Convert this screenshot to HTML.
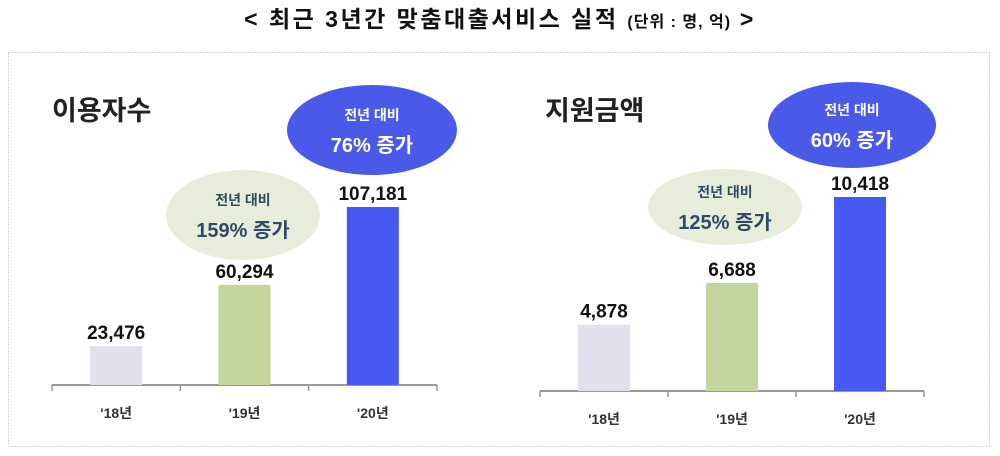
<!DOCTYPE html>
<html><head><meta charset="utf-8"><style>
body{margin:0;background:#fff;}
svg{display:block;font-family:"Liberation Sans","Noto Sans CJK KR",sans-serif;}
</style></head><body>
<svg id="c" width="1000" height="456">
<text x="500" y="27" text-anchor="middle" font-weight="bold" font-size="23" letter-spacing="2.5" fill="#111">&lt; 최근 3년간 맞춤대출서비스 실적 <tspan font-size="16" letter-spacing="1">(단위 : 명, 억)</tspan> &gt;</text>
<rect x="8.5" y="52.5" width="981" height="394" fill="none" stroke="#aaa" stroke-dasharray="1,2"/>
<text x="52" y="120" font-size="27" font-weight="bold" fill="#222">이용자수</text>
<text x="545" y="120" font-size="27" font-weight="bold" fill="#222">지원금액</text>
<g id="g"></g>
</svg>
<script>
const years=["'18년","'19년","'20년"];
const users=[23476,60294,107181];
const amounts=[4878,6688,10418];
const userGrowth=["159% 증가","76% 증가"];
const amountGrowth=["125% 증가","60% 증가"];
const colors=["#e3dfec","#c3d59a","#4659f0"];
const NS="http://www.w3.org/2000/svg";
const g=document.getElementById('g');
function mk(t,a,txt){const e=document.createElementNS(NS,t);for(const k in a)e.setAttribute(k,a[k]);if(txt!==undefined)e.textContent=txt;g.appendChild(e);return e;}
function fmt(v){return v.toLocaleString('en-US');}
function chart(prefix,vals,growth,x0,x1,baseY,vmin,vmax,hmax,labelY,ells){
  const step=(x1-x0)/vals.length;
  const y=v=>baseY-(v-vmin)/(vmax-vmin)*hmax;
  const ax=mk('line',{x1:x0,y1:baseY,x2:x1,y2:baseY,stroke:'#999','stroke-width':2});
  
  
  for(let i=0;i<=vals.length;i++){const t=mk('line',{x1:x0+i*step,y1:baseY,x2:x0+i*step,y2:baseY+6,stroke:'#999','stroke-width':1.5});
    
    }
  vals.forEach((v,i)=>{
    const cx=x0+step*(i+0.5),yy=y(v);
    const b=mk('rect',{x:cx-26,y:yy,width:52,height:baseY-yy,fill:colors[i]});
    
    
    const l=mk('text',{x:cx,y:yy-7,'text-anchor':'middle','font-size':19,'font-weight':'bold',fill:'#111'},fmt(v));
    
    
    const c=mk('text',{x:cx,y:labelY,'text-anchor':'middle','font-size':14,'font-weight':'bold',fill:'#333'},years[i]);
    
    
  });
  ells.forEach((e,i)=>{
    const blue=i===1;
    const el=mk('ellipse',{cx:e[0],cy:e[1],rx:e[2],ry:e[3],fill:blue?'#4a5ae8':'#e8eddb'});
    
    
    const t1=mk('text',{x:e[0],y:e[1]-10,'text-anchor':'middle','font-size':14,'font-weight':'bold',fill:blue?'#fff':'#2f4a66'},'전년 대비');
    
    
    const t2=mk('text',{x:e[0],y:e[1]+22,'text-anchor':'middle','font-size':20,'font-weight':'bold',fill:blue?'#fff':'#2f4a66'},growth[i]);
    
    
  });
}
chart('users',users,userGrowth,52,437,385,0,107181,178,418,[[243,215,77,45],[372,130,85,45]]);
chart('amount',amounts,amountGrowth,540,924,391,2000,10418,194,424,[[725,207,77,38],[852,125,84,43]]);
</script>
</body></html>
